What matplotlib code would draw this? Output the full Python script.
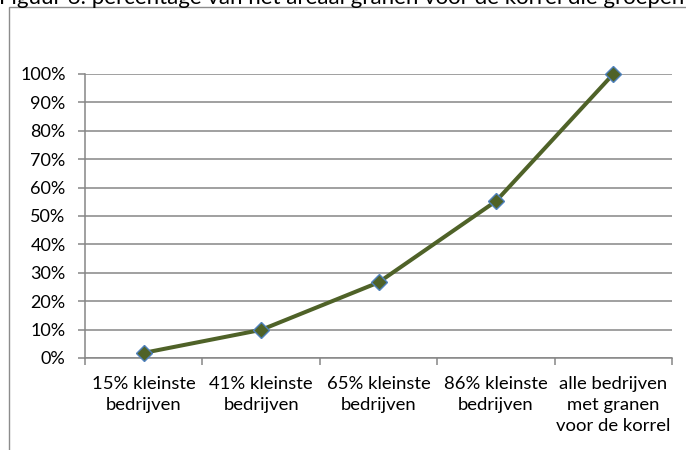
import matplotlib
matplotlib.use("Agg")
import matplotlib.pyplot as plt
from matplotlib.patches import Rectangle
from matplotlib.ticker import FixedLocator, PercentFormatter

plt.rcParams['font.family'] = ['Lato', 'DejaVu Sans']

categories = [
    "15% kleinste\nbedrijven",
    "41% kleinste\nbedrijven",
    "65% kleinste\nbedrijven",
    "86% kleinste\nbedrijven",
    "alle bedrijven\nmet granen\nvoor de korrel",
]
share_area = [0.018, 0.099, 0.266, 0.552, 1.0]
y_ticks = [0.0, 0.1, 0.2, 0.3, 0.4, 0.5, 0.6, 0.7, 0.8, 0.9, 1.0]
title = "Figuur 6: percentage van het areaal granen voor de korrel die groepen"

W, H = 686, 450
fig = plt.figure(figsize=(W / 100, H / 100), dpi=100)

# caption sitting above the chart frame
fig.text(-1.0 / W, 1 - 4.0 / H, title, ha='left', va='baseline',
         fontsize=16.0, color='#000000')

# chart frame (left and top edges)
frame = Rectangle((8.5 / W, -0.05), 1.2, 1 - 6.5 / H + 0.05, transform=fig.transFigure,
                  fill=False, edgecolor='#8c8c8c', linewidth=1.0)
fig.add_artist(frame)

ax = fig.add_axes([85 / W, 1 - 358 / H, (672 - 85) / W, (358 - 74) / H])

x = list(range(len(categories)))
ax.plot(x, share_area, color='#4F6228', linewidth=2.9, marker='D', markersize=8.3,
        markerfacecolor='#4F6228', markeredgecolor='#4F81BD', markeredgewidth=1.0,
        solid_joinstyle='round', zorder=3, clip_on=False)

ax.set_xlim(-0.5, len(categories) - 0.5)
ax.set_ylim(0, 1)

ax.yaxis.set_major_locator(FixedLocator(y_ticks))
ax.yaxis.set_major_formatter(PercentFormatter(1.0, decimals=0))
ax.grid(axis='y', color='#868686', linewidth=1.1)
ax.set_axisbelow(True)

ax.xaxis.set_major_locator(FixedLocator([i - 0.5 for i in range(len(categories) + 1)]))
ax.xaxis.set_major_formatter(plt.NullFormatter())
ax.xaxis.set_minor_locator(FixedLocator(x))
ax.set_xticklabels(categories, minor=True, linespacing=1.38)

for s in ('top', 'right'):
    ax.spines[s].set_visible(False)
for s in ('left', 'bottom'):
    ax.spines[s].set_color('#868686')
    ax.spines[s].set_linewidth(1.1)

ax.tick_params(axis='y', which='major', length=5, width=1.1, color='#868686',
               pad=9, labelsize=13, labelcolor='#000000')
ax.tick_params(axis='x', which='major', length=5, width=1.1, color='#868686')
ax.tick_params(axis='x', which='minor', length=0, pad=13, labelsize=13.3,
               labelcolor='#000000')

fig.savefig("out.png", dpi=100, facecolor='white')
